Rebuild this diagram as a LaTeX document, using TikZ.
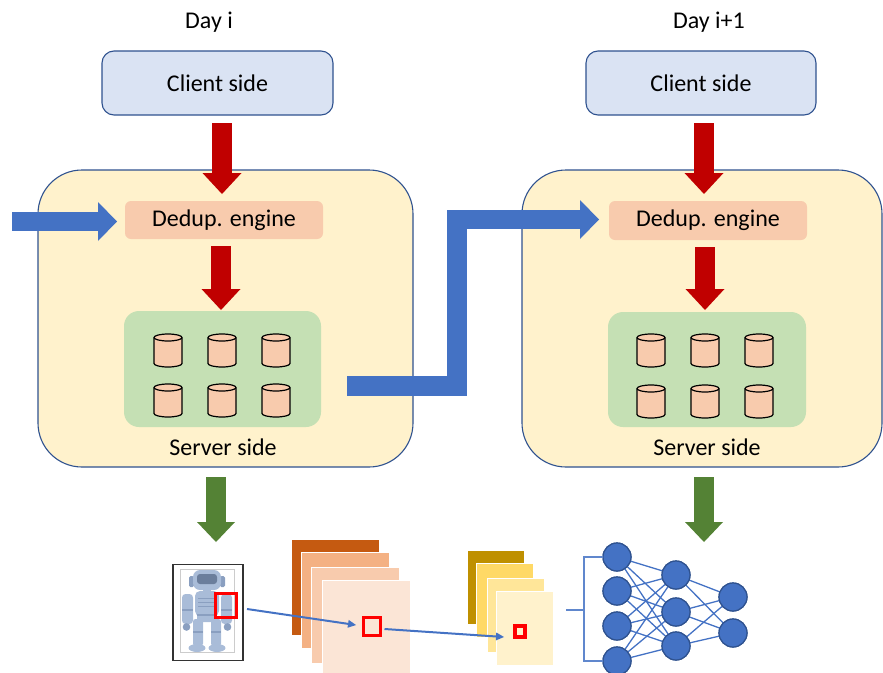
\documentclass[tikz,border=0pt]{standalone}
\usepackage{fontspec}
\setmainfont{Carlito}
\usetikzlibrary{arrows.meta,calc}

\definecolor{clientfill}{HTML}{DAE3F3}
\definecolor{edgeblue}{HTML}{2F528F}
\definecolor{serverfill}{HTML}{FFF2CC}
\definecolor{dedupfill}{HTML}{F8CBAD}
\definecolor{storefill}{HTML}{C5E0B4}
\definecolor{flowred}{HTML}{C00000}
\definecolor{flowgreen}{HTML}{548235}
\definecolor{flowblue}{HTML}{4472C4}
\definecolor{orA}{HTML}{C55A11}
\definecolor{orB}{HTML}{F4B183}
\definecolor{orC}{HTML}{F8CBAD}
\definecolor{orD}{HTML}{FBE5D6}
\definecolor{yeA}{HTML}{BF9000}
\definecolor{yeB}{HTML}{FFD966}
\definecolor{yeC}{HTML}{FFE699}
\definecolor{yeD}{HTML}{FFF2CC}
\definecolor{botlight}{HTML}{A9BCD8}
\definecolor{botmid}{HTML}{8A9FC0}
\definecolor{botdark}{HTML}{6B7E9C}

\tikzset{
  every node/.style={outer sep=0pt, inner sep=0pt},
  bigtext/.style={font=\fontsize{24}{28}\selectfont},
  daylabel/.style={bigtext},
  clientbox/.style={bigtext, draw=edgeblue, line width=1.1pt, fill=clientfill,
    rounded corners=12pt, minimum height=64pt},
  serverbox/.style={draw=edgeblue, line width=1.1pt, fill=serverfill,
    rounded corners=44pt, minimum height=297pt},
  dedupbox/.style={bigtext, fill=dedupfill, rounded corners=6pt,
    minimum width=198pt, minimum height=38pt},
  storebox/.style={fill=storefill, rounded corners=15pt},
  servertext/.style={bigtext},
  redflow/.style={draw=flowred, line width=20pt,
    -{Triangle[length=21pt,width=39pt,line width=0pt]}},
  greenflow/.style={draw=flowgreen, line width=20pt,
    -{Triangle[length=20pt,width=38pt,line width=0pt]}},
  bluebar/.style={draw=flowblue, line width=19.5pt, line join=miter, miter limit=10},
  blueflow/.style={bluebar,
    -{Triangle[length=19pt,width=39pt,line width=0pt]}},
  thinflow/.style={draw=flowblue, line width=2pt,
    -{Triangle[length=8pt,width=8pt,line width=0pt]}},
  fmap/.style={draw=white, line width=0.6pt},
  roibox/.style={draw=red, line width=3pt},
  neuron/.style={circle, fill=flowblue, draw=edgeblue, line width=1.2pt,
    minimum size=28pt},
  synapse/.style={draw=flowblue, line width=1.3pt},
  bracket/.style={draw=flowblue!85!white, line width=1.6pt},
  pics/dbcyl/.style={code={
    \path[fill=dedupfill, draw=black, line width=1.2pt]
      (-14,13) -- (-14,-13)
      arc[start angle=180, end angle=360, x radius=14, y radius=3.5]
      -- (14,13)
      arc[start angle=0, end angle=180, x radius=14, y radius=3.5] -- cycle;
    \draw[black, line width=1.2pt] (-14,13)
      arc[start angle=180, end angle=360, x radius=14, y radius=3.5];
  }}
}

\begin{document}
\begin{tikzpicture}[x=1pt, y=1pt]
\useasboundingbox (0,0) rectangle (883,-672);
\clip (0,0) rectangle (883,-672);

% ---------------- day labels and clients ----------------
\node[daylabel] (day1) at (209,-22) {Day i};
\node[daylabel] (day2) at (709,-22) {Day i+1};
\node[clientbox, minimum width=231pt] (cl1) at (217.5,-83) {Client side};
\node[clientbox, minimum width=230pt] (cl2) at (701,-83) {Client side};

% ---------------- server containers ----------------
\node[serverbox, minimum width=375pt] (sv1) at (225.5,-318.5) {};
\node[serverbox, minimum width=360pt] (sv2) at (702,-318.5) {};

\node[dedupbox] (dd1) at (224,-220) {Dedup. engine};
\node[dedupbox, minimum height=39pt] (dd2) at (708,-220.5) {Dedup. engine};

\node[storebox, minimum width=197pt, minimum height=116pt] (gs1) at (222.5,-369) {};
\node[storebox, minimum width=198pt, minimum height=115pt] (gs2) at (707,-369.5) {};

% storage cylinders
\foreach \cx in {168,222,276} {
  \pic at (\cx,-350.5) {dbcyl};
  \pic at (\cx,-400.5) {dbcyl};
}
\foreach \cx in {651,705,759} {
  \pic at (\cx,-350.5) {dbcyl};
  \pic at (\cx,-401.5) {dbcyl};
}

\node[servertext] (st1) at (223,-447) {Server side};
\node[servertext] (st2) at (707,-447) {Server side};

% ---------------- flow arrows ----------------
\draw[redflow] ($(cl1.south)+(4.5,-8)$) -- ($(dd1.north)+(-2,7)$);
\draw[redflow] ($(dd1.south)+(-3,-7)$) -- ($(gs1.north)+(-1.5,1)$);
\draw[redflow] ($(cl2.south)+(3,-8)$) -- ($(dd2.north)+(-4,7)$);
\draw[redflow] ($(dd2.south)+(-3,-7)$) -- ($(gs2.north)+(-2,2)$);

\coordinate (in1) at (12,-221.5);
\draw[blueflow] (in1) -- ($(dd1.west)+(-8,-1.5)$);

% hand-over from day i storage to day i+1 dedup engine
\coordinate (bend) at (457,-219.5);
\coordinate (headbase) at (560,-219.5);
\draw[bluebar] ($(gs1.east)+(26,-17)$) -| (bend) -- (headbase);
\draw[blueflow] ($(headbase)+(-2,0)$) -- ($(dd2.west)+(-10,1)$);

\coordinate (out1) at (216,-542);
\coordinate (out2) at (704,-542);
\draw[greenflow] ($(sv1.south)+(-9.5,-10)$) -- (out1);
\draw[greenflow] ($(sv2.south)+(2,-10)$) -- (out2);

% ---------------- input image with robot ----------------
\node[draw=black!80, line width=1.6pt, minimum width=70pt, minimum height=96pt]
  (photo) at (208,-612.5) {};
\node[draw=black!20, line width=0.6pt, minimum width=54pt, minimum height=83pt]
  (photoin) at (207,-610.5) {};
\begin{scope}[fill=botlight]
  % legs and feet
  \fill[rounded corners=2.5pt] (193,-619) rectangle (203,-646);
  \fill[rounded corners=2.5pt] (211,-619) rectangle (221,-646);
  \fill[botmid] (193,-631) rectangle (203,-633);
  \fill[botmid] (211,-631) rectangle (221,-633);
  \fill (197,-648) ellipse[x radius=8.5, y radius=4];
  \fill (217,-648) ellipse[x radius=8.5, y radius=4];
  % arms and hands
  \fill[rounded corners=3.5pt] (182,-594) rectangle (193,-624);
  \fill[rounded corners=3.5pt] (221,-594) rectangle (232,-624);
  \fill[botmid] (182,-609) rectangle (193,-611);
  \fill[botmid] (221,-609) rectangle (232,-611);
  \fill[botmid] (186.5,-627) circle (3.8);
  \fill[botmid] (227.5,-627) circle (3.8);
  % pelvis and torso
  \fill[rounded corners=3pt] (197,-613) rectangle (217,-622);
  \fill[rounded corners=5pt] (195,-591) rectangle (219,-616);
  \draw[botmid, line width=1pt] (198,-598) -- (216,-598)
    (198,-602) -- (216,-602) (198,-606) -- (216,-606);
  \fill[botmid] (197,-614) rectangle (217,-616);
  % neck and head
  \fill (203,-588) rectangle (211,-593);
  \fill[botmid, rounded corners=1.5pt] (189,-576) rectangle (194,-587);
  \fill[botmid, rounded corners=1.5pt] (220,-576) rectangle (225,-587);
  \fill[rounded corners=7pt] (193,-570) rectangle (221,-590);
  \fill[botdark, rounded corners=3pt] (197,-574) rectangle (217,-584);
\end{scope}
\node[roibox, minimum width=21pt, minimum height=24pt] (roi) at (226,-605.5) {};

% ---------------- first feature-map stack ----------------
\node[fmap, fill=orA, minimum width=88pt, minimum height=96pt] (fa1) at (335.5,-587) {};
\node[fmap, fill=orB, minimum width=88pt, minimum height=96pt] (fa2) at (345.5,-600.5) {};
\node[fmap, fill=orC, minimum width=88pt, minimum height=96pt] (fa3) at (355,-615.5) {};
\node[fmap, fill=orD, minimum width=88pt, minimum height=96pt] (fa4) at (366,-628) {};
\node[roibox, minimum width=17pt, minimum height=18pt] (faroi) at (372,-626.5) {};

% ---------------- second feature-map stack ----------------
\node[fmap, fill=yeA, minimum width=57pt, minimum height=74pt] (fb1) at (496,-587) {};
\node[fmap, fill=yeB, minimum width=57pt, minimum height=74pt] (fb2) at (505,-600.5) {};
\node[fmap, fill=yeC, minimum width=57pt, minimum height=74pt] (fb3) at (515.5,-615.5) {};
\node[fmap, fill=yeD, minimum width=57pt, minimum height=74pt] (fb4) at (525,-628.5) {};
\node[draw=red, line width=4pt, minimum width=10pt, minimum height=11pt] (fbroi) at (520,-631.5) {};

\draw[thinflow] ($(roi.east)+(10.5,-3.5)$) -- ($(faroi.west)+(-7.5,1.5)$);
\draw[thinflow] ($(faroi.east)+(4,-2.5)$) -- ($(fbroi.west)+(-11,-5.5)$);

% ---------------- fully connected network ----------------
\node[neuron] (n11) at (617,-557) {};
\node[neuron] (n12) at (617,-591) {};
\node[neuron] (n13) at (617,-626) {};
\node[neuron] (n14) at (617,-661) {};
\node[neuron] (n21) at (676,-575) {};
\node[neuron] (n22) at (676,-612) {};
\node[neuron] (n23) at (676,-646) {};
\node[neuron] (n31) at (733,-597) {};
\node[neuron] (n32) at (733,-633) {};

\foreach \a in {n11,n12,n13,n14} {
  \foreach \b in {n21,n22,n23} {
    \draw[synapse] (\a) -- (\b);
  }
}
\foreach \a in {n21,n22,n23} {
  \foreach \b in {n31,n32} {
    \draw[synapse] (\a) -- (\b);
  }
}
% redraw neurons over the synapses
\foreach \x/\y in {617/-557,617/-591,617/-626,617/-661,
                   676/-575,676/-612,676/-646,
                   733/-597,733/-633} {
  \fill[flowblue] (\x,\y) circle (14);
  \draw[edgeblue, line width=1.2pt] (\x,\y) circle (14);
}

% input bracket
\coordinate (bx) at (584,-610);
\draw[bracket] ($(fb4.east)+(12.5,18.5)$) -- (bx);
\draw[bracket] (n11.west) -- (n11.west -| bx) -- (n14.west -| bx) -- (n14.west);

\end{tikzpicture}
\end{document}
